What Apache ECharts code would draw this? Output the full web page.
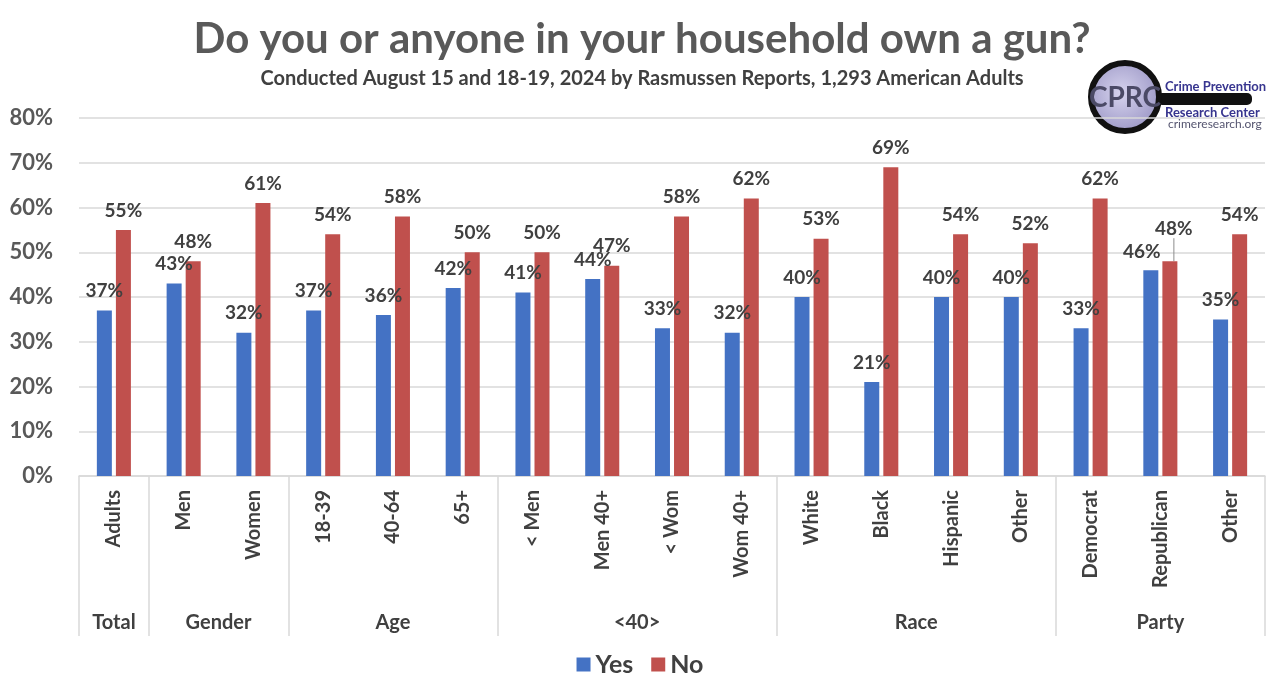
<!DOCTYPE html>
<html>
<head>
<meta charset="utf-8">
<script src="https://cdn.jsdelivr.net/npm/echarts@6/dist/echarts.min.js"></script>
<style>
  html, body { margin: 0; padding: 0; background: #fff; }
  #main { width: 1280px; height: 694px; }
</style>
</head>
<body>
<div id="main"></div>
<script>
// survey data (percent)
const categories = ["Adults", "Men", "Women", "18-39", "40-64", "65+", "< Men", "Men 40+", "< Wom", "Wom 40+",
  "White", "Black", "Hispanic", "Other", "Democrat", "Republican", "Other"];
const yesValues = [37, 43, 32, 37, 36, 42, 41, 44, 33, 32, 40, 21, 40, 40, 33, 46, 35];
const noValues = [55, 48, 61, 54, 58, 50, 50, 47, 58, 62, 53, 69, 54, 52, 62, 48, 54];
const groupNames = ["Total", "Gender", "Age", "<40>", "Race", "Party"];
const groupSizes = [1, 2, 3, 4, 4, 3];
const yTicks = [0, 10, 20, 30, 40, 50, 60, 70, 80];

// group boundaries / centres on a 0..17 scale
const bounds = [0];
groupSizes.forEach((s) => bounds.push(bounds[bounds.length - 1] + s));
const centers = groupNames.map((_, i) => (bounds[i] + bounds[i + 1]) / 2);

const FONT = "Lato";
const TEXT = "#404040";
const LINE = "#d9d9d9";
const MOVED = 15; // Republican: labels pushed apart, with a leader line

const chart = echarts.init(document.getElementById("main"));

const labelStyle = {
  show: true,
  position: "top",
  distance: 10,
  formatter: "{c}%",
  fontFamily: FONT,
  fontWeight: "bold",
  fontSize: 19,
  color: TEXT,
};

const noData = noValues.map((v, i) =>
  i === MOVED ? { value: v, labelLine: { show: true, lineStyle: { color: "#8c8c8c", width: 1 } } } : v
);

const option = {
  animation: false,
  title: {
    text: "Do you or anyone in your household own a gun?",
    subtext: "Conducted August 15 and 18-19, 2024 by Rasmussen Reports, 1,293 American Adults",
    left: 637,
    textAlign: "center",
    top: 13,
    itemGap: 9,
    textStyle: { fontFamily: FONT, fontWeight: "bold", fontSize: 42, color: "#595959" },
    subtextStyle: { fontFamily: FONT, fontWeight: "bold", fontSize: 20, color: TEXT },
  },
  legend: {
    data: ["Yes", "No"],
    bottom: 12,
    left: "center",
    icon: "rect",
    itemWidth: 14,
    itemHeight: 14,
    itemGap: 18,
    textStyle: { fontFamily: FONT, fontWeight: "bold", fontSize: 25, color: TEXT },
  },
  grid: { left: 79, right: 15, top: 118, bottom: 218, containLabel: false },
  xAxis: [
    {
      type: "category",
      data: categories,
      axisLine: { lineStyle: { color: LINE, width: 1.5 } },
      axisTick: { show: false },
      axisLabel: {
        interval: 0,
        rotate: 90,
        margin: 14,
        fontFamily: FONT,
        fontWeight: "bold",
        fontSize: 20,
        color: TEXT,
      },
    },
    {
      type: "value",
      position: "bottom",
      min: 0,
      max: categories.length,
      axisLine: { show: false },
      splitLine: { show: false },
      axisTick: {
        show: true,
        customValues: bounds,
        length: 160,
        lineStyle: { color: LINE, width: 1.5 },
      },
      axisLabel: {
        customValues: centers,
        margin: 137,
        formatter: (v) => {
          const i = centers.findIndex((c) => Math.abs(c - v) < 1e-6);
          return i >= 0 ? groupNames[i] : "";
        },
        fontFamily: FONT,
        fontWeight: "bold",
        fontSize: 20,
        color: TEXT,
      },
    },
  ],
  yAxis: {
    type: "value",
    min: 0,
    max: yTicks[yTicks.length - 1],
    interval: 10,
    axisLine: { show: false },
    axisTick: { show: false },
    splitLine: { lineStyle: { color: LINE, width: 1.5 } },
    axisLabel: {
      formatter: "{value}%",
      margin: 26,
      fontFamily: FONT,
      fontWeight: "bold",
      fontSize: 22,
      color: "#595959",
    },
  },
  series: [
    {
      name: "Yes",
      type: "bar",
      data: yesValues,
      barWidth: 15,
      barGap: "27%",
      itemStyle: { color: "#4472C4" },
      label: labelStyle,
    },
    {
      name: "No",
      type: "bar",
      data: noData,
      barWidth: 15,
      barGap: "27%",
      itemStyle: { color: "#C0504D" },
      label: labelStyle,
      labelLine: { show: false },
    },
  ],
  labelLayout: function (params) {
    if (params.dataIndex === MOVED && params.seriesIndex === 1) return { dx: 4, dy: -13 };
    if (params.dataIndex === MOVED && params.seriesIndex === 0) return { dx: -9, dy: 1 };
    return {};
  },
  graphic: [
    {
      type: "group",
      left: 1088,
      top: 60,
      children: [
        {
          type: "rect",
          shape: { x: 70, y: 33, width: 95, height: 12, r: 5 },
          style: { fill: "#111" },
        },
        {
          type: "circle",
          shape: { cx: 38, cy: 37, r: 34 },
          style: {
            fill: new echarts.graphic.RadialGradient(0.45, 0.45, 0.7, [
              { offset: 0, color: "#d6d3ee" },
              { offset: 1, color: "#8d88bb" },
            ]),
            stroke: "#111",
            lineWidth: 6,
          },
        },
        {
          type: "text",
          style: {
            x: 38, y: 38, text: "CPRC", align: "center", verticalAlign: "middle",
            fontFamily: FONT, fontWeight: "bold", fontSize: 28, fill: "#4b4a66",
          },
        },
        {
          type: "text",
          style: {
            x: 78, y: 27, text: "Crime Prevention", verticalAlign: "middle",
            fontFamily: FONT, fontWeight: "bold", fontSize: 13, fill: "#37358f",
          },
        },
        {
          type: "text",
          style: {
            x: 78, y: 53, text: "Research Center", verticalAlign: "middle",
            fontFamily: FONT, fontWeight: "bold", fontSize: 13, fill: "#37358f",
          },
        },
        {
          type: "text",
          style: {
            x: 81, y: 64, text: "crimeresearch.org", verticalAlign: "middle",
            fontFamily: FONT, fontSize: 12, fill: "#555570",
          },
        },
      ],
    },
  ],
};

chart.setOption(option);
</script>
</body>
</html>
